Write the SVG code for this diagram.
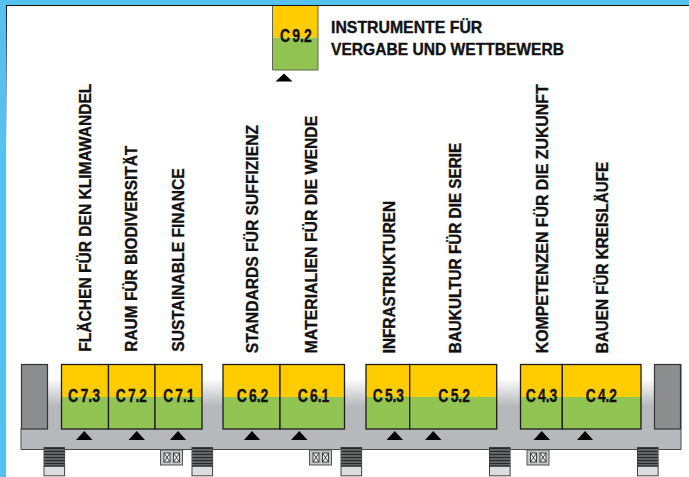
<svg xmlns="http://www.w3.org/2000/svg" width="689" height="477" viewBox="0 0 689 477">
<style>
text{font-family:"Liberation Sans",Arial,sans-serif;font-weight:700;fill:#111;stroke:#111;stroke-width:.35}
.t{font-size:16.5px}
.c{font-size:18.5px}
.y{fill:#ffcc00}
.g{fill:#92c453}
.o{fill:none;stroke:#1c1c1c;stroke-width:1.3}
.a{fill:#000}
.cap{fill:#8c8d8f;stroke:#333;stroke-width:1.2}
</style>
<defs>
<linearGradient id="bar" gradientUnits="userSpaceOnUse" x1="0" y1="378" x2="0" y2="406"><stop offset="0" stop-color="#fff"/><stop offset="1" stop-color="#b6b9bb"/></linearGradient>
<linearGradient id="fade" gradientUnits="userSpaceOnUse" x1="0" y1="5" x2="0" y2="150"><stop offset="0" stop-color="#111"/><stop offset="1" stop-color="#111" stop-opacity="0"/></linearGradient>
<g id="stair">
<rect x="0" y="0" width="20.6" height="28.3" fill="#dcdddf" stroke="#444" stroke-width="1"/>
<rect x="0.5" y="0.5" width="19.6" height="18" fill="#77787a"/>
<path d="M0 1H20.6M0 4H20.6M0 7H20.6M0 10H20.6M0 13H20.6M0 16H20.6M0 18.500H20.6" stroke="#2a2a2a" stroke-width="1.3"/>
</g>
<g id="wc">
<rect x="0" y="0" width="22" height="15" fill="#c4c6c8" stroke="#555" stroke-width="1"/>
<g fill="#f2f2f2" stroke="#333" stroke-width="0.9">
<rect x="3.5" y="3" width="6" height="9"/><rect x="13" y="3" width="6" height="9"/>
<path d="M3.5 3L9.5 12M9.5 3L3.5 12M13 3L19 12M19 3L13 12" fill="none"/>
</g>
</g>
</defs>

<rect width="689" height="477" fill="#fff"/>
<path d="M0 0H689V5H6V477H0Z" fill="#55c1ee"/>
<path d="M6 5.5H689" stroke="#111" stroke-width="1"/>
<path d="M6.5 5V150" stroke="url(#fade)" stroke-width="1"/>

<g id="building">
<rect x="21" y="364" width="660" height="85.5" fill="url(#bar)"/>
<path d="M21 428V449.5H681V364" fill="none" stroke="#4a4a4a" stroke-width="1"/>
<rect class="cap" x="21.5" y="364.5" width="26" height="64.5"/>
<rect class="cap" x="654.5" y="364.5" width="26" height="64.5"/>
</g>

<g id="stairs">
<use href="#stair" x="44" y="447.5"/>
<use href="#stair" x="192" y="447.5"/>
<use href="#stair" x="341" y="447.5"/>
<use href="#stair" x="489.5" y="447.5"/>
<use href="#stair" x="637.5" y="447.5"/>
</g>
<g id="facilities">
<use href="#wc" x="160.5" y="450"/>
<use href="#wc" x="309.5" y="450"/>
<use href="#wc" x="527" y="450"/>
</g>

<g id="connectors"></g>

<g id="node-c73">
<rect class="y" x="61.5" y="364.5" width="47" height="32.5"/><rect class="g" x="61.5" y="397" width="47" height="32"/>
<rect class="o" x="61.5" y="364.5" width="47" height="64.5"/>
<text class="c" x="68" y="401.7" textLength="32" lengthAdjust="spacingAndGlyphs">C<tspan dx="3">7.3</tspan></text>
<path class="a" d="M84.3 431L92.5 440H76Z"/>
<text class="t" transform="translate(90.5 351.7) rotate(-90)" textLength="268" lengthAdjust="spacingAndGlyphs">FLÄCHEN FÜR DEN KLIMAWANDEL</text>
</g>
<g id="node-c72">
<rect class="y" x="108.5" y="364.5" width="46.5" height="32.5"/><rect class="g" x="108.5" y="397" width="46.5" height="32"/>
<rect class="o" x="108.5" y="364.5" width="46.5" height="64.5"/>
<text class="c" x="115.7" y="401.7" textLength="31.3" lengthAdjust="spacingAndGlyphs">C<tspan dx="3">7.2</tspan></text>
<path class="a" d="M136.7 431L145 440H128.500Z"/>
<text class="t" transform="translate(137.3 351.7) rotate(-90)" textLength="206" lengthAdjust="spacingAndGlyphs">RAUM FÜR BIODIVERSITÄT</text>
</g>
<g id="node-c71">
<rect class="y" x="155" y="364.5" width="47" height="32.5"/><rect class="g" x="155" y="397" width="47" height="32"/>
<rect class="o" x="155" y="364.5" width="47" height="64.5"/>
<text class="c" x="163.3" y="401.7" textLength="31" lengthAdjust="spacingAndGlyphs">C<tspan dx="3">7.1</tspan></text>
<path class="a" d="M178 431L186.200 440H170Z"/>
<text class="t" transform="translate(184 351.7) rotate(-90)" textLength="183.400" lengthAdjust="spacingAndGlyphs">SUSTAINABLE FINANCE</text>
</g>

<g id="node-c62">
<rect class="y" x="223" y="364.5" width="57" height="32.5"/><rect class="g" x="223" y="397" width="57" height="32"/>
<rect class="o" x="223" y="364.5" width="57" height="64.5"/>
<text class="c" x="236.700" y="401.7" textLength="31.6" lengthAdjust="spacingAndGlyphs">C<tspan dx="3">6.2</tspan></text>
<path class="a" d="M252 431L260.200 440H244Z"/>
<text class="t" transform="translate(258.3 353.300) rotate(-90)" textLength="228.300" lengthAdjust="spacingAndGlyphs">STANDARDS FÜR SUFFIZIENZ</text>
</g>
<g id="node-c61">
<rect class="y" x="280" y="364.5" width="64.5" height="32.5"/><rect class="g" x="280" y="397" width="64.5" height="32"/>
<rect class="o" x="280" y="364.5" width="64.5" height="64.5"/>
<text class="c" x="297.700" y="401.7" textLength="31.500" lengthAdjust="spacingAndGlyphs">C<tspan dx="3">6.1</tspan></text>
<path class="a" d="M299.300 431L307.500 440H291Z"/>
<text class="t" transform="translate(317.300 353.300) rotate(-90)" textLength="237.600" lengthAdjust="spacingAndGlyphs">MATERIALIEN FÜR DIE WENDE</text>
</g>

<g id="node-c53">
<rect class="y" x="366" y="364.5" width="43.7" height="32.5"/><rect class="g" x="366" y="397" width="43.7" height="32"/>
<rect class="o" x="366" y="364.5" width="43.7" height="64.5"/>
<text class="c" x="372.700" y="401.7" textLength="31.3" lengthAdjust="spacingAndGlyphs">C<tspan dx="3">5.3</tspan></text>
<path class="a" d="M394.700 431L403 440H386.500Z"/>
<text class="t" transform="translate(395 353.300) rotate(-90)" textLength="152.300" lengthAdjust="spacingAndGlyphs">INFRASTRUKTUREN</text>
</g>
<g id="node-c52">
<rect class="y" x="409.700" y="364.5" width="87" height="32.5"/><rect class="g" x="409.700" y="397" width="87" height="32"/>
<rect class="o" x="409.700" y="364.5" width="87" height="64.5"/>
<text class="c" x="438.300" y="401.7" textLength="31.7" lengthAdjust="spacingAndGlyphs">C<tspan dx="3">5.2</tspan></text>
<path class="a" d="M433.300 431L441.500 440H425Z"/>
<text class="t" transform="translate(460.500 353.300) rotate(-90)" textLength="210.600" lengthAdjust="spacingAndGlyphs">BAUKULTUR FÜR DIE SERIE</text>
</g>

<g id="node-c43">
<rect class="y" x="520.500" y="364.5" width="41.8" height="32.5"/><rect class="g" x="520.500" y="397" width="41.8" height="32"/>
<rect class="o" x="520.500" y="364.5" width="41.8" height="64.5"/>
<text class="c" x="525.700" y="401.7" textLength="31.6" lengthAdjust="spacingAndGlyphs">C<tspan dx="3">4.3</tspan></text>
<path class="a" d="M541.700 431L550 440H533.500Z"/>
<text class="t" transform="translate(548 353.300) rotate(-90)" textLength="269" lengthAdjust="spacingAndGlyphs">KOMPETENZEN FÜR DIE ZUKUNFT</text>
</g>
<g id="node-c42">
<rect class="y" x="562.300" y="364.5" width="78.7" height="32.5"/><rect class="g" x="562.300" y="397" width="78.7" height="32"/>
<rect class="o" x="562.300" y="364.5" width="78.7" height="64.5"/>
<text class="c" x="585.700" y="401.7" textLength="31.3" lengthAdjust="spacingAndGlyphs">C<tspan dx="3">4.2</tspan></text>
<path class="a" d="M585 431L593.200 440H577Z"/>
<text class="t" transform="translate(608 353.300) rotate(-90)" textLength="191.600" lengthAdjust="spacingAndGlyphs">BAUEN FÜR KREISLÄUFE</text>
</g>

<g id="node-c92">
<rect class="y" x="272.500" y="6" width="45.500" height="31.700"/><rect class="g" x="272.500" y="37.700" width="45.500" height="32.300"/>
<path d="M272.500 6V70H318V6" fill="none" stroke="#5c6650" stroke-width="1"/>
<text class="c" x="280" y="42.300" textLength="31.700" lengthAdjust="spacingAndGlyphs">C<tspan dx="3">9.2</tspan></text>
<path class="a" d="M284 73.500L292.500 81.500H275.500Z"/>
<text class="t" x="331" y="33.300" textLength="151.300" lengthAdjust="spacingAndGlyphs">INSTRUMENTE FÜR</text>
<text class="t" x="331" y="55" textLength="233" lengthAdjust="spacingAndGlyphs">VERGABE UND WETTBEWERB</text>
</g>
</svg>
